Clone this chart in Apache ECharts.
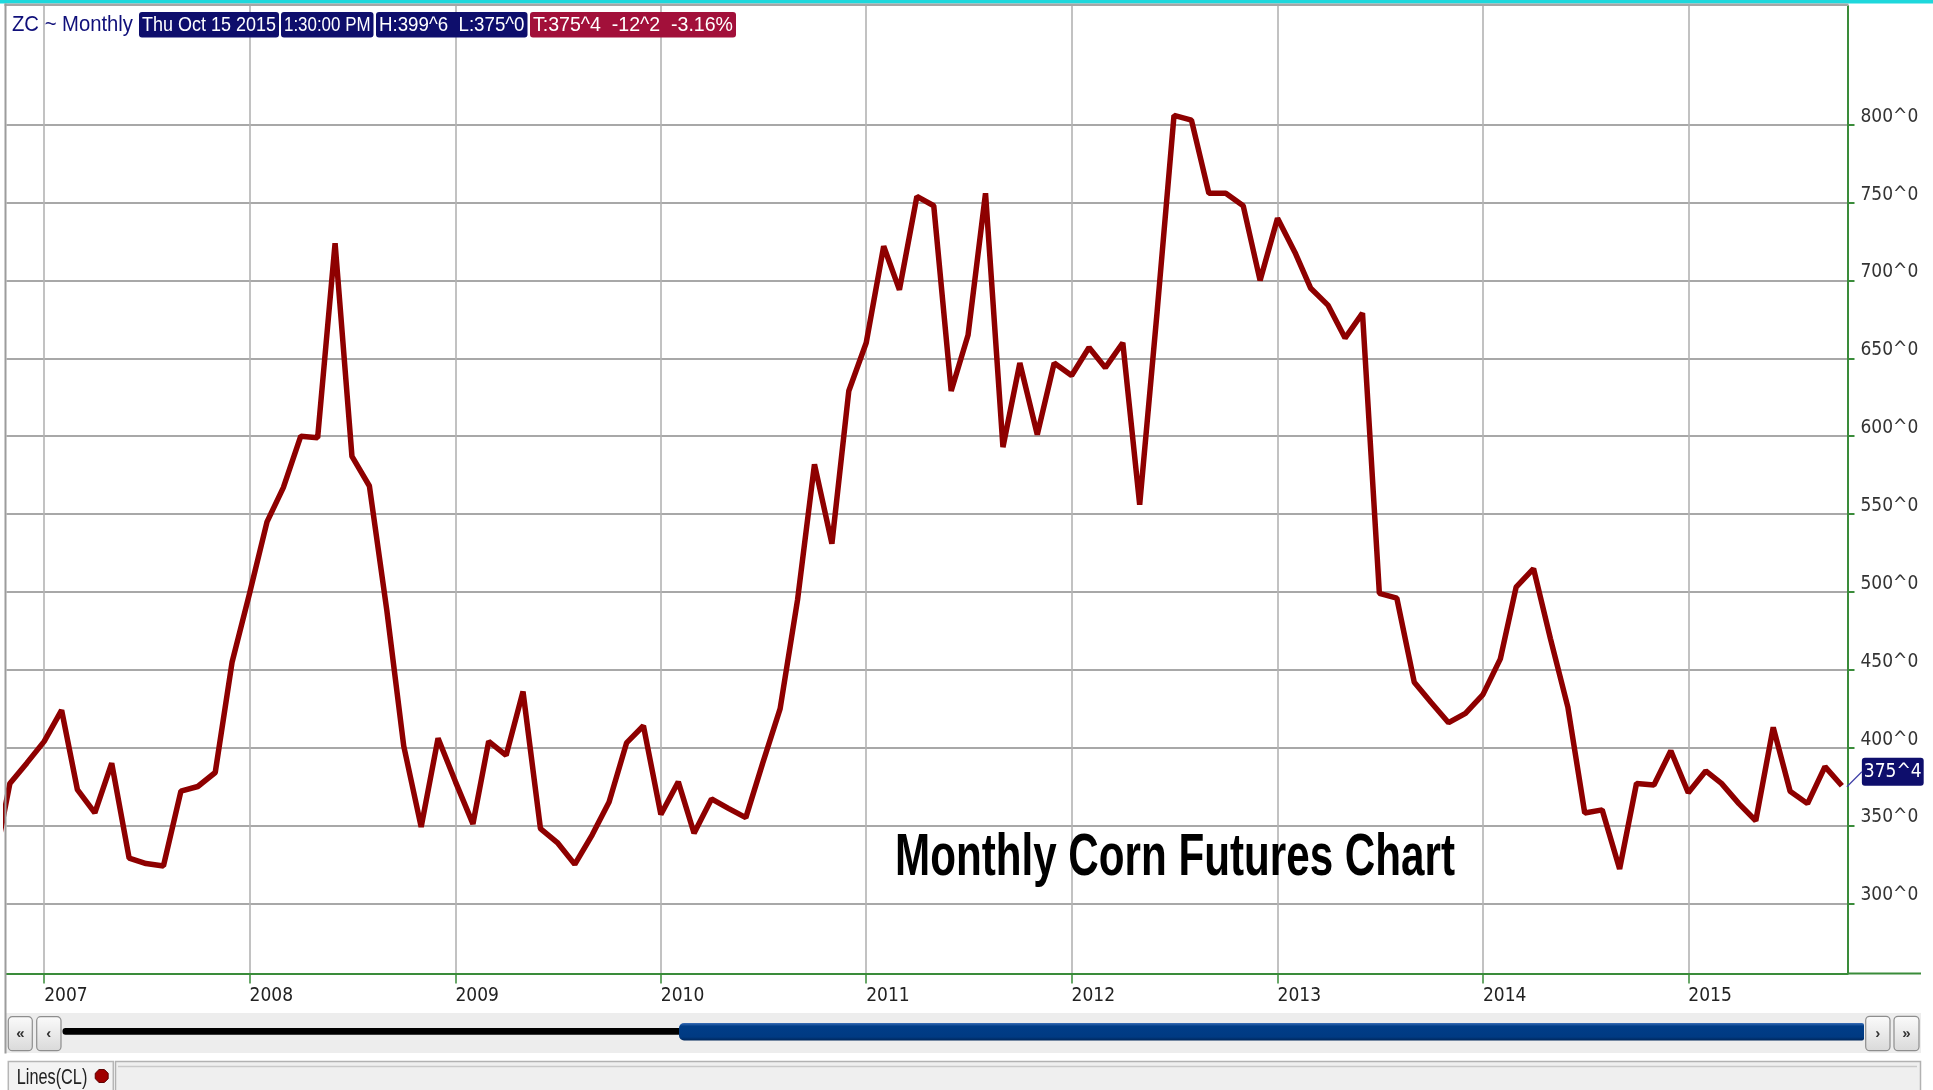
<!DOCTYPE html>
<html lang="en">
<head>
    <meta charset="UTF-8">
    <title>Monthly Corn Futures Chart</title>
    <script src="https://cdn.jsdelivr.net/npm/echarts@6/dist/echarts.min.js"></script>
    <style>
        html, body { margin: 0; padding: 0; background: #fff; }
        #main { width: 1933px; height: 1090px; }
    </style>
</head>
<body>
<div id="main"></div>
<script type="text/javascript">
    // monthly closes of corn futures, cents/bushel (Oct 2006 lies just left of the window)
    var months = [
        '2006-10', '2006-11', '2006-12',
        '2007-01', '2007-02', '2007-03', '2007-04', '2007-05', '2007-06', '2007-07', '2007-08', '2007-09', '2007-10', '2007-11', '2007-12',
        '2008-01', '2008-02', '2008-03', '2008-04', '2008-05', '2008-06', '2008-07', '2008-08', '2008-09', '2008-10', '2008-11', '2008-12',
        '2009-01', '2009-02', '2009-03', '2009-04', '2009-05', '2009-06', '2009-07', '2009-08', '2009-09', '2009-10', '2009-11', '2009-12',
        '2010-01', '2010-02', '2010-03', '2010-04', '2010-05', '2010-06', '2010-07', '2010-08', '2010-09', '2010-10', '2010-11', '2010-12',
        '2011-01', '2011-02', '2011-03', '2011-04', '2011-05', '2011-06', '2011-07', '2011-08', '2011-09', '2011-10', '2011-11', '2011-12',
        '2012-01', '2012-02', '2012-03', '2012-04', '2012-05', '2012-06', '2012-07', '2012-08', '2012-09', '2012-10', '2012-11', '2012-12',
        '2013-01', '2013-02', '2013-03', '2013-04', '2013-05', '2013-06', '2013-07', '2013-08', '2013-09', '2013-10', '2013-11', '2013-12',
        '2014-01', '2014-02', '2014-03', '2014-04', '2014-05', '2014-06', '2014-07', '2014-08', '2014-09', '2014-10', '2014-11', '2014-12',
        '2015-01', '2015-02', '2015-03', '2015-04', '2015-05', '2015-06', '2015-07', '2015-08', '2015-09', '2015-10'
    ];
    var closes = [
        320, 377, 390,
        404, 424, 373, 358, 390, 329, 325.5, 324, 372, 375, 384, 455,
        499, 545, 567, 600, 599, 724, 587, 568, 488, 401, 349, 406,
        378, 351, 404, 395, 436, 348, 339, 325, 344, 365, 403, 414,
        357, 378, 345, 367, 361, 355, 390, 425, 495, 582, 531, 629,
        660, 722, 694, 754, 748, 629, 665, 756, 593, 647, 601, 647,
        639, 657, 644, 660, 556, 680, 806, 803, 756, 756, 748, 700,
        740, 718, 695, 684, 663, 679, 499, 496, 442, 429, 416, 422,
        434, 457, 503, 515, 470, 426, 358, 360, 322, 377, 376, 398,
        371, 385, 377, 364, 353, 413, 372, 364, 387.75, 375.5
    ];
    var yearTicks = [2007, 2008, 2009, 2010, 2011, 2012, 2013, 2014, 2015];
    var priceTicks = [300, 350, 400, 450, 500, 550, 600, 650, 700, 750, 800];

    // quote header
    var symbol = 'ZC';
    var period = 'Monthly';
    var stampDate = 'Thu Oct 15 2015';
    var stampTime = '1:30:00 PM';
    var barHigh = 399.75;
    var barLow = 375;
    var chartTitle = 'Monthly Corn Futures Chart';

    // visible window
    var viewStart = new Date(2006, 9, 26).getTime();
    var viewEnd = new Date(2015, 9, 11).getTime();
    var viewMin = 254.9;
    var viewMax = 876.3;

    var green = '#3a8c3a';
    var navy = '#0e0e6c';
    var narrow = "'Liberation Sans Narrow', 'DejaVu Sans Condensed', sans-serif";

    // 375.5 -> 375^4 (eighths of a cent)
    function fmtPrice(v) {
        var whole = Math.floor(v + 1e-9);
        var eighths = Math.round((v - whole) * 8);
        if (eighths === 8) { whole += 1; eighths = 0; }
        return whole + '^' + eighths;
    }

    function monthStamp(m) {
        return new Date(+m.slice(0, 4), +m.slice(5, 7) - 1, 1).getTime();
    }

    var measureCtx = document.createElement('canvas').getContext('2d');
    function fitScale(text, font, width) {
        measureCtx.font = font;
        return width / measureCtx.measureText(text).width;
    }

    // text squeezed into [x0, x1], vertically centred on yc
    function fitText(text, font, x0, x1, yc, color, z) {
        return {
            type: 'text', x: x0, y: yc, z: z || 20,
            scaleX: fitScale(text, font, x1 - x0),
            style: {
                text: text, font: font, fill: color,
                align: 'left', verticalAlign: 'middle',
                textAlign: 'left', textVerticalAlign: 'middle'
            }
        };
    }

    function button(x, y, w, h, glyph) {
        return [
            {
                type: 'rect', z: 20,
                shape: { x: x, y: y, width: w, height: h, r: 4 },
                style: {
                    fill: new echarts.graphic.LinearGradient(0, 0, 0, 1, [
                        { offset: 0, color: '#fbfbfb' }, { offset: 1, color: '#d9d9d9' }
                    ]),
                    stroke: '#8e8e8e', lineWidth: 1.2
                }
            },
            {
                type: 'text', x: x + w / 2, y: y + h / 2, z: 21,
                style: {
                    text: glyph, font: 'bold 15px "Liberation Sans"', fill: '#333',
                    align: 'center', verticalAlign: 'middle',
                    textAlign: 'center', textVerticalAlign: 'middle'
                }
            }
        ];
    }

    var seriesData = months.map(function (m, i) {
        return [monthStamp(m), closes[i]];
    });
    var yearStamps = yearTicks.map(function (y) {
        return new Date(y, 0, 1).getTime();
    });

    var last = closes[closes.length - 1];
    var prev = closes[closes.length - 2];
    var change = last - prev;
    var pct = change / prev * 100;

    var chart = echarts.init(document.getElementById('main'));
    var option = {
        animation: false,
        backgroundColor: '#ffffff',
        grid: { left: 6.5, right: 85.5, top: 6, bottom: 116.5 },
        xAxis: {
            type: 'value',
            min: viewStart,
            max: viewEnd,
            axisLine: { onZero: false, lineStyle: { color: green, width: 2 } },
            axisTick: { show: true, customValues: yearStamps, length: 10, lineStyle: { color: green, width: 1.5 } },
            axisLabel: {
                customValues: yearStamps,
                formatter: function (v) { return String(new Date(v).getFullYear()); },
                align: 'left',
                color: '#222',
                fontFamily: narrow,
                fontSize: 19,
                margin: 13
            },
            splitLine: { show: true, lineStyle: { color: '#b3b3b3', width: 1.6 } }
        },
        yAxis: {
            type: 'value',
            position: 'right',
            min: viewMin,
            max: viewMax,
            axisLine: { show: true, lineStyle: { color: green, width: 2 } },
            axisTick: { show: true, customValues: priceTicks, length: 7, lineStyle: { color: green, width: 2 } },
            axisLabel: {
                customValues: priceTicks,
                formatter: function (v) { return fmtPrice(v); },
                color: '#333',
                fontFamily: narrow,
                fontSize: 19,
                margin: 13,
                verticalAlign: 'bottom',
                lineHeight: 16
            },
            splitLine: { show: true, lineStyle: { color: '#a8a8a8', width: 2.2 } }
        },
        series: [
            {
                type: 'line',
                data: seriesData,
                showSymbol: false,
                symbol: 'none',
                silent: true,
                lineStyle: { color: '#8e0000', width: 5.5 },
                endLabel: {
                    show: true,
                    formatter: function (p) { return fmtPrice(p.value[1]); },
                    distance: 0,
                    offset: [20, -14],
                    color: '#fff',
                    backgroundColor: navy,
                    borderRadius: 3,
                    padding: [2, 2, 1, 2],
                    fontFamily: narrow,
                    fontSize: 19,
                    lineHeight: 25
                }
            }
        ]
    };
    chart.setOption(option);

    // chrome around the plot: header, scroll bar, tab strip
    var headerFont = '21px "Liberation Sans", sans-serif';
    var headerCells = [
        { text: symbol + ' ~ ' + period, x0: 12, x1: 133, bg: null, fg: '#10107a' },
        { text: stampDate, x0: 139, x1: 279, bg: navy, fg: '#fff' },
        { text: stampTime, x0: 281, x1: 373.5, bg: navy, fg: '#fff' },
        { text: 'H:' + fmtPrice(barHigh) + '  L:' + fmtPrice(barLow), x0: 376, x1: 527.5, bg: navy, fg: '#fff' },
        { text: 'T:' + fmtPrice(last) + '  ' + (change < 0 ? '-' : '+') + fmtPrice(Math.abs(change)) + '  ' + pct.toFixed(2) + '%',
          x0: 530, x1: 736, bg: '#a2103a', fg: '#fff' }
    ];

    var elements = [
        { type: 'rect', z: 15, shape: { x: 0, y: 0, width: 1933, height: 3.4 }, style: { fill: '#1ed8dc' } },
        { type: 'rect', z: 15, shape: { x: 4.5, y: 3.4, width: 1844, height: 2.6 }, style: { fill: '#a6a6a6' } },
        { type: 'rect', z: 15, shape: { x: 4.5, y: 3.4, width: 2, height: 1050 }, style: { fill: '#9c9c9c' } },
        { type: 'rect', z: 15, shape: { x: 1847, y: 972.5, width: 74, height: 2 }, style: { fill: green } },
        // scroll bar
        { type: 'rect', z: 10, shape: { x: 6, y: 1013, width: 1915, height: 40 }, style: { fill: '#ededed' } },
        { type: 'rect', z: 12, shape: { x: 62.5, y: 1028, width: 620, height: 6.7, r: 3 }, style: { fill: '#000' } },
        {
            type: 'rect', z: 13, shape: { x: 679, y: 1023, width: 1185, height: 17.5, r: [5, 2, 2, 5] },
            style: {
                fill: new echarts.graphic.LinearGradient(0, 0, 0, 1, [
                    { offset: 0, color: '#3b6fb8' }, { offset: 0.18, color: '#003d88' },
                    { offset: 0.8, color: '#003a82' }, { offset: 1, color: '#00265a' }
                ])
            }
        },
        // tab strip
        { type: 'rect', z: 10, shape: { x: 8.3, y: 1061.5, width: 105, height: 32 }, style: { fill: '#f3f3f3', stroke: '#b6b6b6', lineWidth: 1.5 } },
        { type: 'rect', z: 10, shape: { x: 115.5, y: 1061.5, width: 1805, height: 32 }, style: { fill: '#efefef', stroke: '#b2b2b2', lineWidth: 1.5 } },
        { type: 'line', z: 11, shape: { x1: 118, y1: 1066.5, x2: 1917, y2: 1066.5 }, style: { stroke: '#c9c9c9', lineWidth: 1.5 } },
        fitText('Lines(CL)', '22px "Liberation Sans", sans-serif', 16.7, 87.3, 1078, '#222', 12),
        {
            type: 'polygon', z: 12,
            shape: {
                points: [0, 1, 2, 3, 4, 5, 6, 7].map(function (k) {
                    var a = Math.PI / 8 + k * Math.PI / 4;
                    return [101.7 + 7 * Math.cos(a), 1076 + 7 * Math.sin(a)];
                })
            },
            style: { fill: '#a00000', stroke: '#5a0000', lineWidth: 1 }
        },
        fitText(chartTitle, 'bold 60px "Liberation Sans", sans-serif', 895, 1455, 858.5, '#000', 20)
    ];

    elements = elements
        .concat(button(8.3, 1016.7, 24, 34, '\u00ab'))
        .concat(button(36.7, 1016.7, 24.3, 34, '\u2039'))
        .concat(button(1865.7, 1016.3, 24.3, 34.4, '\u203a'))
        .concat(button(1894, 1016.3, 25, 34.4, '\u00bb'));

    headerCells.forEach(function (c) {
        if (c.bg) {
            elements.push({
                type: 'rect', z: 19,
                shape: { x: c.x0, y: 12, width: c.x1 - c.x0, height: 25.5, r: 3 },
                style: { fill: c.bg }
            });
            elements.push(fitText(c.text, headerFont, c.x0 + 3, c.x1 - 3, 25, c.fg, 20));
        } else {
            elements.push(fitText(c.text, '22px "Liberation Sans", sans-serif', c.x0, c.x1, 25, c.fg, 20));
        }
    });

    // thin connector from the last close to its price tag
    var lastPt = chart.convertToPixel({ seriesIndex: 0 }, seriesData[seriesData.length - 1]);
    elements.push({
        type: 'line', z: 18,
        shape: { x1: lastPt[0] + 5, y1: lastPt[1] + 1, x2: lastPt[0] + 20, y2: lastPt[1] - 14 },
        style: { stroke: '#4040a8', lineWidth: 1.2 }
    });

    chart.setOption({ graphic: { elements: elements } });
</script>
</body>
</html>
